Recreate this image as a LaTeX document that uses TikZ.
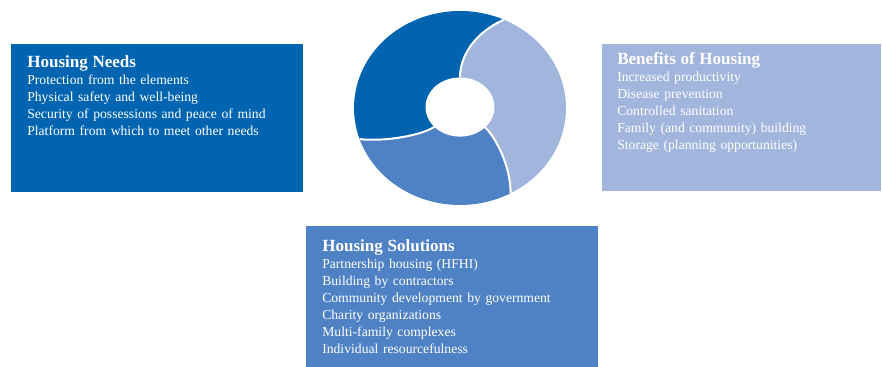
\documentclass[tikz,border=0pt]{standalone}
\usepackage{fontspec}
\setmainfont{Liberation Serif}
\definecolor{needsblue}{RGB}{0,100,176}
\definecolor{solutionsblue}{RGB}{79,130,196}
\definecolor{benefitsblue}{RGB}{162,182,221}
\newcommand\paneltitle[1]{{\fontsize{12.8}{12.75}\selectfont\bfseries #1}}
\begin{document}
\begin{tikzpicture}[x=0.75pt,y=-0.75pt,
  panel/.style={anchor=north west, inner sep=0pt, outer sep=0pt, draw=none},
  paneltext/.style={anchor=base west, inner sep=0pt, text width=210pt, align=left,
    text=white, font=\fontsize{10.25}{12.75}\selectfont},
  divider/.style={draw=white, line width=1.5pt}]
\useasboundingbox (0,0) rectangle (882,367);

% coloured panels
\node[panel, fill=needsblue, minimum width=219pt, minimum height=111pt] (needs) at (11,44) {};
\node[panel, fill=benefitsblue, minimum width=209.25pt, minimum height=110.25pt] (benefits) at (602,44) {};
\node[panel, fill=solutionsblue, minimum width=219pt, minimum height=105.75pt] (solutions) at (306,226) {};

% panel texts
\node[paneltext] (needstext) at (27,67.3) {\paneltitle{Housing Needs}\\
  Protection from the elements\\
  Physical safety and well-being\\
  Security of possessions and peace of mind\\
  Platform from which to meet other needs};
\node[paneltext] (benefitstext) at (617,64.7) {\paneltitle{Benefits of Housing}\\
  Increased productivity\\
  Disease prevention\\
  Controlled sanitation\\
  Family (and community) building\\
  Storage (planning opportunities)};
\node[paneltext] (solutionstext) at (322,251.7) {\paneltitle{Housing Solutions}\\
  Partnership housing (HFHI)\\
  Building by contractors\\
  Community development by government\\
  Charity organizations\\
  Multi-family complexes\\
  Individual resourcefulness};

% swirl ring: three segments separated by curved white dividers
\begin{scope}[shift={(460,108)}, x=79.5pt, y=72.75pt]
  \coordinate (hub) at (0,0.01);
  \coordinate (d1i) at (0,0.315);
  \coordinate (d1a) at (0.0,0.55);
  \coordinate (d1b) at (0.15,0.78);
  \coordinate (d1o) at (65.6:1);
  \coordinate (d2i) at (-0.2415,-0.194);
  \coordinate (d2a) at (-0.36,-0.28);
  \coordinate (d2b) at (-0.70,-0.35);
  \coordinate (d2o) at (198.7:1);
  \coordinate (d3i) at (0.237,-0.199);
  \coordinate (d3a) at (0.35,-0.32);
  \coordinate (d3b) at (0.48,-0.62);
  \coordinate (d3o) at (298.5:1);
  \fill[needsblue] (hub) -- (d1i) .. controls (d1a) and (d1b) .. (d1o)
    arc[start angle=65.6, end angle=198.7, radius=1]
    .. controls (d2b) and (d2a) .. (d2i) -- cycle;
  \fill[solutionsblue] (hub) -- (d2i) .. controls (d2a) and (d2b) .. (d2o)
    arc[start angle=198.7, end angle=298.5, radius=1]
    .. controls (d3b) and (d3a) .. (d3i) -- cycle;
  \fill[benefitsblue] (hub) -- (d3i) .. controls (d3a) and (d3b) .. (d3o)
    arc[start angle=298.5, end angle=425.6, radius=1]
    .. controls (d1b) and (d1a) .. (d1i) -- cycle;
  \draw[divider] (d1i) .. controls (d1a) and (d1b) .. (d1o);
  \draw[divider] (d2i) .. controls (d2a) and (d2b) .. (d2o);
  \draw[divider] (d3i) .. controls (d3a) and (d3b) .. (d3o);
  \fill[white] (hub) ellipse[x radius=0.325, y radius=0.305];
\end{scope}
\end{tikzpicture}
\end{document}
